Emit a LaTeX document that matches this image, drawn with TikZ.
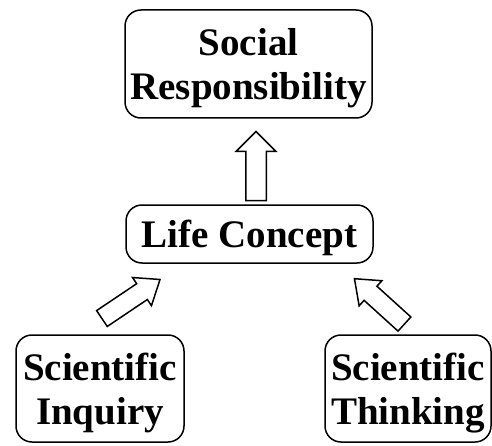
\documentclass[tikz,border=0pt]{standalone}
\usepackage{fontspec}
\setmainfont{Liberation Serif}
\usetikzlibrary{calc}
\usetikzlibrary{shapes.arrows}

\begin{document}
\begin{tikzpicture}[x=1pt, y=1pt,
	box/.style={draw, line width=1.5pt, rounded corners=16pt, align=center, inner sep=0pt,
		text depth=0pt, font=\fontsize{39}{44}\selectfont\bfseries},
	fatarrow/.style={draw, line width=1.5pt, single arrow, inner sep=0pt, anchor=tail,
		text height=9.5pt, text depth=9.5pt, single arrow head extend=9.5pt,
		single arrow tip angle=90, minimum height=69pt},
	slantarrow/.style={fatarrow, text height=8.8pt, text depth=8.8pt,
		single arrow head extend=7.4pt, single arrow tip angle=76}]
	\useasboundingbox (0,0) rectangle (492,445);
	\node[box, minimum width=247pt, minimum height=108pt] (social) at (248.5,381) {Social\\Responsibility};
	\node[box, minimum width=247pt, minimum height=58pt] (life) at (249.5,211) {Life Concept};
	\node[box, minimum width=168pt, minimum height=107pt] (inquiry) at (100,56.5) {Scientific\\Inquiry};
	\node[box, minimum width=166pt, minimum height=107pt] (thinking) at (408,56.5) {Scientific\\Thinking};
	% block arrows pointing up to the next level
	\node[fatarrow, rotate=90] (lifeup) at ($(life.north)+(6.5,3)$) {};
	\node[slantarrow, rotate=33.9, minimum height=70pt] (inqup) at ($(inquiry.north)+(1.3,15.3)$) {};
	\node[slantarrow, rotate=137.8, minimum height=67.5pt] (thinkup) at ($(thinking.north)+(-3,9.7)$) {};
\end{tikzpicture}
\end{document}
